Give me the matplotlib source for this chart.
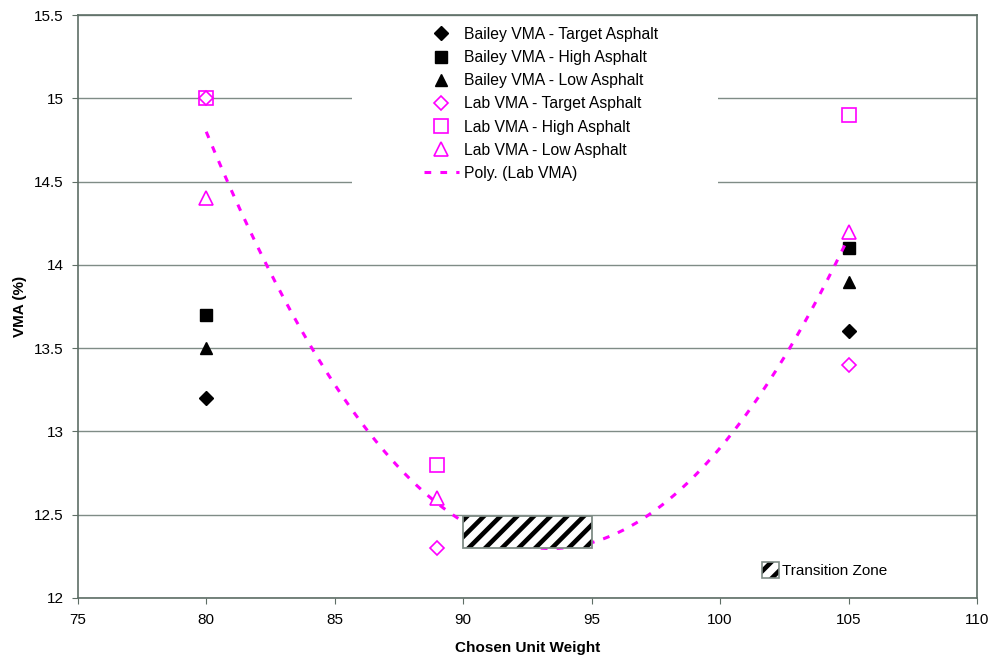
import matplotlib
matplotlib.use("Agg")
import matplotlib.pyplot as plt
from matplotlib.patches import Rectangle, Patch
from matplotlib.legend_handler import HandlerTuple
import numpy as np

plt.rcParams['font.family'] = ['Liberation Sans', 'DejaVu Sans']
plt.rcParams['hatch.linewidth'] = 3.3

# Bailey method VMA, measured at two unit weights
bailey_x = [80, 105]
bailey_target = [13.2, 13.6]
bailey_high = [13.7, 14.1]
bailey_low = [13.5, 13.9]

# Lab VMA at three unit weights
lab_x = [80, 89, 105]
lab_target = [15.0, 12.3, 13.4]
lab_high = [15.0, 12.8, 14.9]
lab_low = [14.4, 12.6, 14.2]

# transition zone band (unit weight range, VMA range)
zone_x = [90, 95]
zone_y = [12.3, 12.49]

pink = '#ff00ff'
grid_col = '#7f8c86'
fs = 11

fig = plt.figure(figsize=(9.97, 6.62), dpi=100)
ax = fig.add_axes([0.078, 0.097, 0.902, 0.880])

ms = 9
h1, = ax.plot(bailey_x, bailey_target, 'D', color='black', ms=ms - 1.5, ls='none',
              label='Bailey VMA - Target Asphalt')
h2, = ax.plot(bailey_x, bailey_high, 's', color='black', ms=ms - 1, ls='none',
              label='Bailey VMA - High Asphalt')
h3, = ax.plot(bailey_x, bailey_low, '^', color='black', ms=ms, ls='none',
              label='Bailey VMA - Low Asphalt')
h4, = ax.plot(lab_x, lab_target, 'D', mfc='white', mec=pink, mew=1.2, ms=ms - 1.5,
              ls='none', label='Lab VMA - Target Asphalt')
h5, = ax.plot(lab_x, lab_high, 's', mfc='none', mec=pink, mew=1.2, ms=ms + 1,
              ls='none', label='Lab VMA - High Asphalt')
h6, = ax.plot(lab_x, lab_low, '^', mfc='white', mec=pink, mew=1.2, ms=ms + 1,
              ls='none', label='Lab VMA - Low Asphalt')

# second order trendline through all lab points
xs = np.array(lab_x * 3, dtype=float)
ys = np.array(lab_target + lab_high + lab_low)
coef = np.polyfit(xs, ys, 2)
xx = np.linspace(min(lab_x), max(lab_x), 300)
h7, = ax.plot(xx, np.polyval(coef, xx), color=pink, lw=2.2, ls=(0, (2.2, 3.0)),
              label='Poly. (Lab VMA)', zorder=2)

# hatched band: black stripes, grey outline
zw = zone_x[1] - zone_x[0]
zh = zone_y[1] - zone_y[0]
ax.add_patch(Rectangle((zone_x[0], zone_y[0]), zw, zh, facecolor='white',
                       edgecolor='black', hatch='//', lw=0, zorder=3))
ax.add_patch(Rectangle((zone_x[0], zone_y[0]), zw, zh, facecolor='none',
                       edgecolor=grid_col, lw=1.3, zorder=4))

ax.set_xlim(75, 110)
ax.set_ylim(12, 15.5)
ax.set_xticks(np.arange(75, 111, 5))
ax.set_yticks(np.arange(12, 15.51, 0.5))
ax.set_yticklabels(['12', '12.5', '13', '13.5', '14', '14.5', '15', '15.5'])
ax.yaxis.grid(True, color=grid_col, lw=1.0)
ax.set_axisbelow(True)
for s in ax.spines.values():
    s.set_color('#5e6e66')
    s.set_linewidth(1.2)
ax.tick_params(axis='both', labelsize=fs, color='#5e6e66', length=4, direction='out')
ax.tick_params(axis='y', pad=6)
ax.tick_params(axis='x', pad=7)

ax.set_xlabel('Chosen Unit Weight', fontsize=fs, fontweight='bold', labelpad=10)
ax.set_ylabel('VMA (%)', fontsize=fs, fontweight='bold', labelpad=5)

# white panel behind the legend, hiding the gridlines
ax.add_patch(Rectangle((0.305, 0.70), 0.407, 0.295, transform=ax.transAxes,
                       facecolor='white', edgecolor='none', zorder=1.5))

leg = ax.legend(handles=[h1, h2, h3, h4, h5, h6, h7], loc='upper left',
                bbox_to_anchor=(0.385, 0.98), fontsize=11.3, frameon=False,
                handlelength=2.2, labelspacing=0.52, borderpad=0,
                handletextpad=0.35, borderaxespad=0)
for line in leg.get_lines()[:6]:
    line.set_linestyle('none')
ax.add_artist(leg)

zone_fill = Patch(facecolor='white', edgecolor='black', hatch='//', lw=0)
zone_edge = Patch(facecolor='none', edgecolor=grid_col, lw=1.2)
ax.legend(handles=[(zone_fill, zone_edge)], labels=['Transition Zone'],
          handler_map={tuple: HandlerTuple(ndivide=1, pad=0)},
          loc='lower right', bbox_to_anchor=(0.915, 0.01),
          frameon=False, fontsize=fs, handlelength=1.15, handleheight=1.15,
          handletextpad=0.15)

fig.savefig('out.png', dpi=100)
